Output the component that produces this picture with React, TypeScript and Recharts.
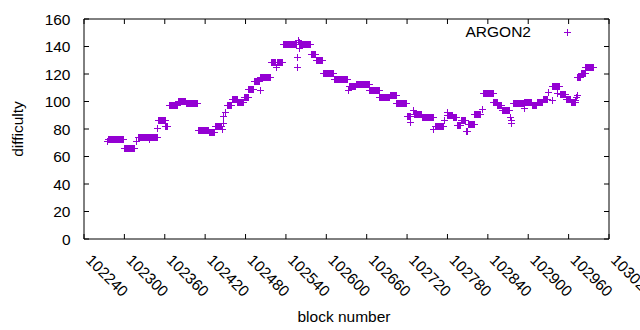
import React from 'react';
import {
  ScatterChart,
  Scatter,
  XAxis,
  YAxis,
  ReferenceArea,
  Label,
} from 'recharts';

// difficulty holds steady over runs of blocks, so the series is stored run-length:
// first block, last block and difficulty of each run
const segStart = [
  102274, 102276, 102299, 102317, 102320, 102336, 102337, 102349, 102350, 102361,
  102366, 102379, 102391, 102409, 102425, 102434, 102445, 102446, 102447, 102450,
  102452, 102460, 102468, 102477, 102484, 102492, 102501, 102502, 102518, 102525,
  102526, 102535, 102556, 102557, 102558, 102559, 102560, 102561, 102577, 102584,
  102595, 102611, 102632, 102634, 102644, 102664, 102679, 102694, 102704, 102720,
  102725, 102729, 102730, 102742, 102759, 102761, 102775, 102779, 102780, 102788,
  102794, 102800, 102807, 102810, 102820, 102831, 102833, 102848, 102854, 102861,
  102873, 102874, 102875, 102877, 102893, 102894, 102905, 102913, 102922, 102930,
  102935, 102936, 102942, 102947, 102956, 102963, 102970, 102971, 102972, 102973,
  102978, 102985,
];
const segEnd = [
  102274, 102298, 102315, 102317, 102335, 102336, 102348, 102349, 102360, 102364,
  102378, 102390, 102408, 102424, 102433, 102444, 102445, 102446, 102447, 102450,
  102459, 102467, 102476, 102483, 102491, 102500, 102501, 102517, 102524, 102525,
  102534, 102555, 102556, 102557, 102558, 102559, 102560, 102576, 102583, 102594,
  102610, 102631, 102632, 102643, 102663, 102678, 102693, 102703, 102719, 102724,
  102725, 102729, 102741, 102758, 102759, 102773, 102775, 102779, 102787, 102793,
  102799, 102806, 102809, 102819, 102829, 102831, 102847, 102853, 102860, 102872,
  102873, 102874, 102875, 102892, 102893, 102904, 102912, 102921, 102928, 102930,
  102935, 102946, 102942, 102955, 102962, 102969, 102970, 102971, 102972, 102977,
  102984, 102996,
];
const segDiff = [
  71, 73, 66, 71, 74.5, 72.5, 74, 81, 86.5, 82.5,
  97.2, 100.2, 98.7, 79.5, 78, 82.5, 80, 84.5, 89.7, 92.6,
  97.5, 101.5, 100, 103.5, 109, 115, 108, 118, 129, 125.3,
  129, 141.6, 125.3, 132.6, 145, 143, 138.7, 141.6, 134.3, 130,
  120.5, 116.6, 108.4, 111.3, 112.7, 108.4, 103.3, 104.4, 98.7, 89.5,
  85.3, 93.8, 90.9, 88.5, 79.8, 82.2, 86.5, 92.6, 90.2, 88.7,
  82.9, 86.3, 78.5, 83.4, 90.8, 94.3, 106.5, 99.5, 97.5, 93.6,
  89, 84.6, 86.5, 99.1, 95, 99.9, 97.2, 99.9, 102, 107,
  101, 111, 106, 105.7, 101.5, 99.5, 101, 103, 105, 117.6,
  120.5, 124.8,
];

const xTicks = [
  102240, 102300, 102360, 102420, 102480, 102540, 102600,
  102660, 102720, 102780, 102840, 102900, 102960, 103020,
];
const yTicks = [0, 20, 40, 60, 80, 100, 120, 140, 160];

const points: { block: number; diff: number }[] = [];
segStart.forEach((s, i) => {
  for (let b = s; b <= segEnd[i]; b++) points.push({ block: b, diff: segDiff[i] });
});

const FONT = "'Liberation Sans', Arial, sans-serif";
const FS = 15.5;
const PURPLE = '#9400d3';
const PLOT_W = 525;
const PLOT_H = 220;

// gnuplot style "+" marker, snapped to the pixel grid so it stays crisp
const Plus = (props: any) => {
  const { cx, cy } = props;
  if (cx == null || cy == null) return null;
  const px = Math.round(cx) + 0.5;
  const py = Math.round(cy) + 0.5;
  return (
    <path
      d={`M${px - 3.5},${py}H${px + 3.5}M${px},${py - 3.5}V${py + 3.5}`}
      stroke={PURPLE}
      strokeWidth={1}
      fill="none"
      shapeRendering="crispEdges"
    />
  );
};

const XTick = (props: any) => {
  const { x, y, payload } = props;
  return (
    <g>
      <line x1={x} y1={y} x2={x} y2={y - 5} stroke="#000" />
      <line x1={x} y1={y - PLOT_H} x2={x} y2={y - PLOT_H + 5} stroke="#000" />
      <text
        transform={`translate(${x + 1},${y + 22}) rotate(45)`}
        fontFamily={FONT}
        fontSize={FS}
        fill="#000"
      >
        {payload.value}
      </text>
    </g>
  );
};

const YTick = (props: any) => {
  const { x, y, payload } = props;
  return (
    <g>
      <line x1={x} y1={y} x2={x + 5} y2={y} stroke="#000" />
      <line x1={x + PLOT_W} y1={y} x2={x + PLOT_W - 5} y2={y} stroke="#000" />
      <text
        x={x - 13.5}
        y={y + 5.5}
        textAnchor="end"
        fontFamily={FONT}
        fontSize={FS}
        fill="#000"
      >
        {payload.value}
      </text>
    </g>
  );
};

const YTitle = (props: any) => {
  const { x, y, height } = props.viewBox;
  const cx = x + 17.5;
  const cy = y + height / 2;
  return (
    <text
      transform={`translate(${cx + 5.5},${cy}) rotate(-90)`}
      textAnchor="middle"
      fontFamily={FONT}
      fontSize={FS}
      fill="#000"
    >
      difficulty
    </text>
  );
};

const XTitle = (props: any) => {
  const { x, y, width } = props.viewBox;
  return (
    <text
      x={x + width / 2 - 2.5}
      y={y + 82.5}
      textAnchor="middle"
      fontFamily={FONT}
      fontSize={FS}
      fill="#000"
    >
      block number
    </text>
  );
};

export default function App() {
  return (
    <div style={{ position: 'absolute', left: 0, top: 0, width: 640, height: 330, background: '#fff', overflow: 'hidden' }}>
      <ScatterChart width={640} height={330} margin={{ top: 19, right: 31, bottom: 0, left: 0 }}>
        <XAxis
          type="number"
          dataKey="block"
          domain={[102240, 103020]}
          ticks={xTicks}
          interval={0}
          height={91}
          axisLine={false}
          tickLine={false}
          tickSize={0}
          tickMargin={0}
          tick={<XTick />}
        >
          <Label content={<XTitle />} />
        </XAxis>
        <YAxis
          type="number"
          dataKey="diff"
          domain={[0, 160]}
          ticks={yTicks}
          interval={0}
          width={84}
          axisLine={false}
          tickLine={false}
          tickSize={0}
          tickMargin={0}
          tick={<YTick />}
        >
          <Label content={<YTitle />} />
        </YAxis>
        <ReferenceArea
          x1={102240}
          x2={103020}
          y1={0}
          y2={160}
          fill="none"
          stroke="#000"
          strokeWidth={1}
          fillOpacity={0}
        />
        <Scatter data={points} shape={<Plus />} isAnimationActive={false} />
      </ScatterChart>
      <svg width={640} height={60} style={{ position: 'absolute', left: 0, top: 0, pointerEvents: 'none' }}>
        <text x={531} y={37.3} textAnchor="end" fontFamily={FONT} fontSize={FS} fill="#000">
          ARGON2
        </text>
        <path d="M563.5,32.5H570.5M567,29V36" stroke={PURPLE} strokeWidth={1} shapeRendering="crispEdges" />
      </svg>
    </div>
  );
}
